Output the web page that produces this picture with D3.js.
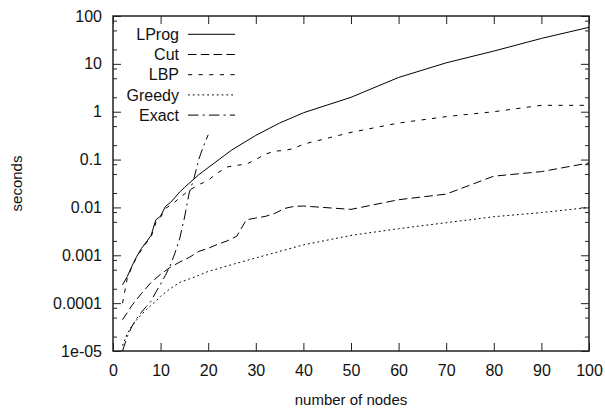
<!DOCTYPE html>
<html lang="en">
  <head>
    <meta charset="UTF-8" />
    <title>seconds vs number of nodes</title>
    <script src="https://d3js.org/d3.v7.min.js"></script>
    <style>
      body {
        margin: 0;
        background: #fff;
        font-family: "Liberation Sans", Arial, sans-serif;
      }
      svg text {
        font-size: 16px;
        fill: #111;
      }
      .series {
        fill: none;
        stroke: #000;
        stroke-width: 1;
      }
    </style>
  </head>
  <body>
    <svg id="chart" width="605" height="409"></svg>
    <script>
      // tick values / labels
      const xTicks = [0, 10, 20, 30, 40, 50, 60, 70, 80, 90, 100];
      const yTicks = [100, 10, 1, 0.1, 0.01, 0.001, 0.0001, 1e-5];
      const yTickLabels = ["100", "10", "1", "0.1", "0.01", "0.001", "0.0001", "1e-05"];
      const yMinorMult = [2, 5, 8];

      // LProg
      const lprogX = [2, 3, 4, 5, 6, 7, 8, 9, 10, 11, 12, 13, 14, 15, 16, 17, 18, 19, 20, 25, 30, 35, 40, 50, 60, 70, 80, 90, 100];
      const lprogY = [0.00024, 0.00036, 0.0006, 0.00095, 0.0014, 0.0019, 0.0026, 0.0055, 0.0066, 0.0105, 0.0125, 0.016, 0.021, 0.026, 0.032, 0.039, 0.048, 0.057, 0.068, 0.16, 0.32, 0.58, 0.95, 2.0, 5.2, 10.5, 18.5, 34, 58];

      // Cut
      const cutX = [2, 4, 6, 8, 10, 12, 14, 16, 18, 20, 22, 24, 26, 28, 30, 32, 34, 36, 38, 40, 50, 60, 70, 80, 90, 100];
      const cutY = [4.5e-5, 9e-5, 0.00016, 0.00027, 0.0004, 0.00056, 0.00072, 0.0009, 0.0012, 0.0014, 0.0017, 0.002, 0.0025, 0.0055, 0.006, 0.0065, 0.0075, 0.0095, 0.0105, 0.0107, 0.0091, 0.0145, 0.019, 0.045, 0.056, 0.085];

      // LBP
      const lbpX = [2, 3, 4, 5, 6, 7, 8, 9, 10, 11, 12, 13, 14, 15, 16, 17, 18, 19, 20, 22, 24, 26, 28, 30, 32, 34, 36, 38, 40, 50, 60, 70, 80, 90, 100];
      const lbpY = [0.0001, 0.00033, 0.00058, 0.00092, 0.0013, 0.0018, 0.0024, 0.0048, 0.0062, 0.0095, 0.011, 0.013, 0.016, 0.019, 0.023, 0.026, 0.03, 0.033, 0.037, 0.053, 0.07, 0.076, 0.08, 0.1, 0.13, 0.15, 0.155, 0.17, 0.21, 0.37, 0.58, 0.79, 1.0, 1.36, 1.36];

      // Greedy
      const greedyX = [2, 3, 4, 5, 6, 7, 8, 9, 10, 12, 14, 16, 18, 20, 25, 30, 40, 50, 60, 70, 80, 90, 100];
      const greedyY = [1.3e-5, 2.3e-5, 3.4e-5, 4.5e-5, 5.8e-5, 7.3e-5, 9e-5, 0.00011, 0.00014, 0.0002, 0.00027, 0.00032, 0.00038, 0.00046, 0.00064, 0.00088, 0.00165, 0.0026, 0.0036, 0.0048, 0.0064, 0.0078, 0.01];

      // Exact
      const exactX = [2, 3, 4, 5, 6, 7, 8, 9, 10, 11, 12, 13, 14, 15, 16, 17, 18, 19, 20];
      const exactY = [1e-5, 2e-5, 3.3e-5, 4.8e-5, 6.5e-5, 8.5e-5, 0.00011, 0.00017, 0.00025, 0.00038, 0.0006, 0.0011, 0.0022, 0.006, 0.02, 0.04, 0.1, 0.19, 0.33];

      const series = [
        { name: "LProg", xs: lprogX, ys: lprogY, dash: null },
        { name: "Cut", xs: cutX, ys: cutY, dash: "8.5,4.3" },
        { name: "LBP", xs: lbpX, ys: lbpY, dash: "4.2,6.4" },
        { name: "Greedy", xs: greedyX, ys: greedyY, dash: "1.8,3" },
        { name: "Exact", xs: exactX, ys: exactY, dash: "10.5,4.2,2,4.2" },
      ];

      const W = 605, H = 409;
      const margin = { top: 16, right: 16, bottom: 58, left: 113 };
      const width = W - margin.left - margin.right;
      const height = H - margin.top - margin.bottom;

      const svg = d3.select("#chart");
      const g = svg.append("g").attr("transform", `translate(${margin.left},${margin.top})`);

      const x = d3.scaleLinear().domain([0, 100]).range([0, width]);
      const y = d3.scaleLog().domain([1e-5, 100]).range([height, 0]);

      svg.append("defs").append("clipPath").attr("id", "clip")
        .append("rect").attr("width", width).attr("height", height);

      // minor y ticks
      const minor = [];
      yTicks.forEach((t) => {
        if (t < 100) yMinorMult.forEach((m) => minor.push(t * m));
      });

      const tickColor = "#222";
      // left / right axes
      const yAxisL = d3.axisLeft(y).tickValues(yTicks).tickFormat((d, i) => yTickLabels[i]).tickSizeInner(-8).tickSizeOuter(0).tickPadding(11);
      const yAxisR = d3.axisRight(y).tickValues(yTicks).tickFormat("").tickSizeInner(-8).tickSizeOuter(0);
      const yMinorL = d3.axisLeft(y).tickValues(minor).tickFormat("").tickSizeInner(-4).tickSizeOuter(0);
      const yMinorR = d3.axisRight(y).tickValues(minor).tickFormat("").tickSizeInner(-4).tickSizeOuter(0);
      const xAxisB = d3.axisBottom(x).tickValues(xTicks).tickSizeInner(-8).tickSizeOuter(0).tickPadding(14);
      const xAxisT = d3.axisTop(x).tickValues(xTicks).tickFormat("").tickSizeInner(-8).tickSizeOuter(0);

      const axes = [
        g.append("g").call(yAxisL),
        g.append("g").call(yMinorL),
        g.append("g").attr("transform", `translate(${width},0)`).call(yAxisR),
        g.append("g").attr("transform", `translate(${width},0)`).call(yMinorR),
        g.append("g").attr("transform", `translate(0,${height})`).call(xAxisB),
        g.append("g").call(xAxisT),
      ];
      axes.forEach((a) => {
        a.select(".domain").remove();
        a.selectAll("line").attr("stroke", tickColor).attr("stroke-width", 1);
        a.selectAll("text").style("font-size", "16px").attr("fill", "#111").style("font-family", "'Liberation Sans', Arial, sans-serif");
      });

      // frame
      g.append("rect").attr("width", width).attr("height", height)
        .attr("fill", "none").attr("stroke", tickColor).attr("stroke-width", 1.5);

      // series
      const line = d3.line().x((d) => x(d[0])).y((d) => y(d[1]));
      const plot = g.append("g").attr("clip-path", "url(#clip)");
      series.forEach((s) => {
        const pts = s.xs.map((v, i) => [v, s.ys[i]]);
        plot.append("path").datum(pts).attr("class", "series")
          .attr("d", line).attr("stroke-dasharray", s.dash);
      });

      // legend
      const lg = g.append("g").attr("transform", "translate(0,0)");
      series.forEach((s, i) => {
        const yy = 18.3 + i * 20.2;
        lg.append("text").attr("x", 179 - margin.left).attr("y", yy).attr("dy", "0.35em")
          .attr("text-anchor", "end").text(s.name);
        lg.append("line").attr("class", "series")
          .attr("x1", 188 - margin.left).attr("x2", 235 - margin.left)
          .attr("y1", yy).attr("y2", yy).attr("stroke-dasharray", s.dash);
      });

      // axis titles
      svg.append("text").attr("x", margin.left + width / 2).attr("y", 405)
        .attr("text-anchor", "middle").style("font-size", "15px").text("number of nodes");
      svg.append("text").attr("transform", `translate(22,${margin.top + height / 2}) rotate(-90)`)
        .attr("text-anchor", "middle").style("font-size", "15px").text("seconds");
    </script>
  </body>
</html>
